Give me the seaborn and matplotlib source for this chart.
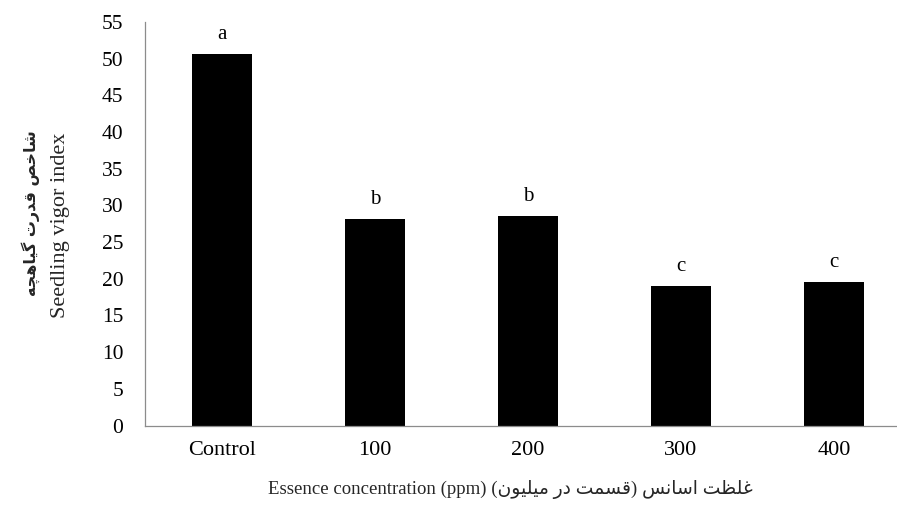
import matplotlib
matplotlib.use("Agg")
import matplotlib.pyplot as plt
import seaborn as sns
import pandas as pd

categories = ["Control", "100", "200", "300", "400"]
vigor = [50.6, 28.1, 28.5, 19.0, 19.5]
letters = ["a", "b", "b", "c", "c"]
y_ticks = list(range(0, 56, 5))

# Persian text written in presentation forms, visual order
fa_ylabel = "\uFEEA\uFB7D\uFEEB\uFE8E\uFBFF\uFB94 \uFE95\uFEAD\uFEAA\uFED7 \uFEBA\uFEA7\uFE8E\uFEB7"
en_ylabel = "Seedling vigor index"
fa_xlabel = ("(" + "\uFEE5\uFEEE\uFBFF\uFEE0\uFBFF\uFEE3" + " " + "\uFEAD\uFEA9" + " "
             + "\uFE96\uFEE4\uFEB4\uFED7" + ") " + "\uFEB2\uFEE7\uFE8E\uFEB3\uFE8D" + " "
             + "\uFE96\uFEC8\uFEE0\uFECF")
en_xlabel = "Essence concentration (ppm)"

df = pd.DataFrame({"treatment": categories, "vigor": vigor})

sns.set_theme(style="white")
plt.rcParams["font.family"] = ["Liberation Serif", "DejaVu Sans"]

fig = plt.figure(figsize=(8.97, 5.05), dpi=100)
ax = fig.add_axes([0.1622, 0.1574, 0.8528, 0.799])

sns.barplot(data=df, x="treatment", y="vigor", order=categories, color="black",
            saturation=1, width=0.39, edgecolor="none", ax=ax)

for i, (v, l) in enumerate(zip(vigor, letters)):
    ax.annotate(l, (i, v), xytext=(0, 11), textcoords="offset points",
                ha="center", va="baseline", fontsize=15, color="black")

ax.set_xlim(-0.5, 4.5)
ax.set_ylim(0, 55)
ax.set_yticks(y_ticks)
ax.set_yticklabels([str(t) for t in y_ticks])
ax.tick_params(axis="y", length=0, pad=16, labelsize=15.5, colors="black")
ax.tick_params(axis="x", length=0, pad=11, labelsize=16, colors="black")
ax.set_xlabel("")
ax.set_ylabel("")
for s in ["top", "right"]:
    ax.spines[s].set_visible(False)
for s in ["left", "bottom"]:
    ax.spines[s].set_color("#8c8c8c")
    ax.spines[s].set_linewidth(0.9)

fig.text(0.034, 0.578, fa_ylabel, rotation=90, ha="center", va="center",
         fontsize=11.5, fontweight="bold", family=["DejaVu Sans"])
fig.text(0.068, 0.554, en_ylabel, rotation=90, ha="center", va="center", fontsize=16)
fig.text(0.569, 0.030, en_xlabel + " " + fa_xlabel, ha="center", va="center",
         fontsize=13.5, family=["Liberation Serif", "DejaVu Sans"])

fig.savefig("out.png", dpi=100)
